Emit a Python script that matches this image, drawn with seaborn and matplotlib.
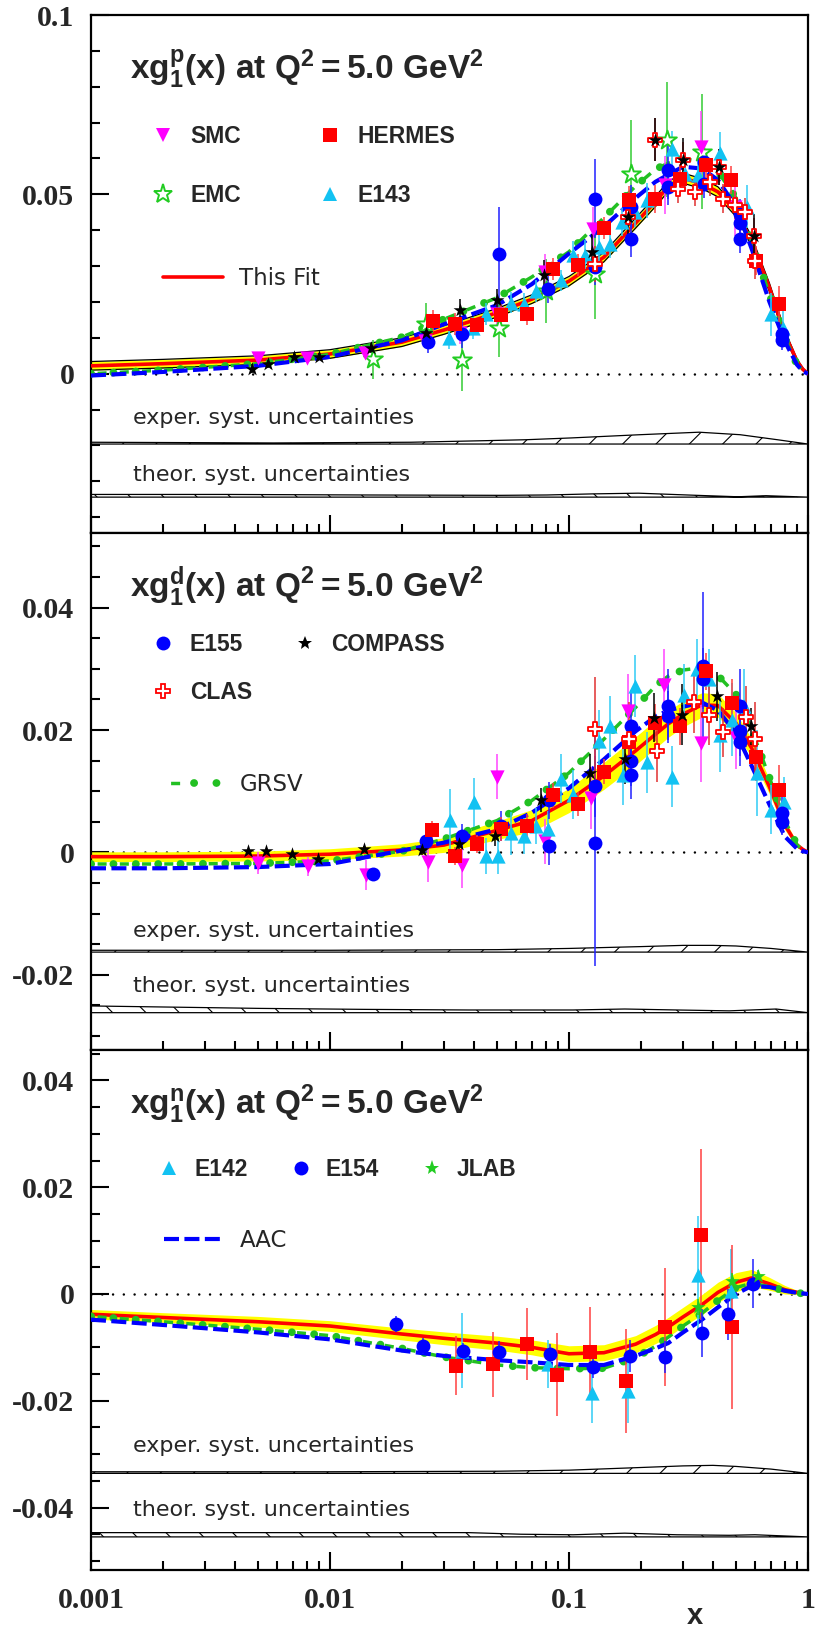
import numpy as np
import pandas as pd
import matplotlib
matplotlib.use("Agg")
import matplotlib.pyplot as plt
import seaborn as sns
from matplotlib.lines import Line2D
from matplotlib.legend_handler import HandlerTuple
from matplotlib.ticker import FixedLocator, MultipleLocator, LogLocator, NullFormatter, FuncFormatter

sns.set_style("white")
plt.rcParams["font.family"] = ["DejaVu Sans"]
plt.rcParams["mathtext.fontset"] = "custom"
plt.rcParams["mathtext.rm"] = "Liberation Sans:bold"
plt.rcParams["mathtext.it"] = "Liberation Sans:bold"
plt.rcParams["mathtext.bf"] = "Liberation Sans:bold"
plt.rcParams["hatch.linewidth"] = 0.8

# ---------------- curves (x grid shared) ----------------
X_GRID = [0.001, 0.002, 0.005, 0.01, 0.02, 0.03, 0.05, 0.07, 0.1, 0.14, 0.19, 0.23,
          0.26, 0.3, 0.36, 0.42, 0.5, 0.58, 0.69, 0.8, 0.9, 0.95, 1.0]

P_FIT = [0.0022, 0.0028, 0.0038, 0.0055, 0.0088, 0.0122, 0.017, 0.0208, 0.0258, 0.0325, 0.042, 0.048,
         0.0522, 0.0545, 0.053, 0.0507, 0.0452, 0.037, 0.024, 0.011, 0.0035, 0.0013, 0.0]
P_BAND = [0.0012, 0.0012, 0.0012, 0.0012, 0.0012, 0.0012, 0.0012, 0.0012, 0.0013, 0.0013, 0.0014, 0.0014,
          0.0014, 0.0014, 0.0014, 0.0014, 0.0014, 0.0013, 0.0012, 0.001, 0.0006, 0.0004, 0.0]
P_AAC = [-0.0005, 0.0005, 0.0022, 0.0047, 0.0093, 0.0138, 0.0191, 0.025, 0.0335, 0.041, 0.049, 0.0535,
         0.0555, 0.0577, 0.0572, 0.054, 0.0465, 0.035, 0.02, 0.009, 0.0025, 0.0007, 0.0]
P_GRSV = [0.0, 0.001, 0.0028, 0.0054, 0.0102, 0.0152, 0.0212, 0.027, 0.034, 0.0435, 0.0523, 0.057,
          0.0587, 0.060, 0.059, 0.0563, 0.049, 0.037, 0.022, 0.010, 0.0025, 0.001, 0.0]

D_FIT = [-0.0007, -0.0007, -0.0006, -0.0003, 0.0004, 0.0012, 0.0036, 0.0052, 0.0085, 0.0125, 0.0166, 0.0193,
         0.021, 0.0226, 0.0241, 0.024, 0.0211, 0.0171, 0.0107, 0.0045, 0.0012, 0.0005, 0.0]
D_BAND = [0.0008, 0.0008, 0.0008, 0.0009, 0.001, 0.0012, 0.0015, 0.0018, 0.002, 0.0022, 0.0023, 0.0023,
          0.0022, 0.0021, 0.002, 0.0019, 0.0017, 0.0015, 0.0012, 0.0008, 0.0004, 0.0002, 0.0]
D_AAC = [-0.0026, -0.0026, -0.0024, -0.0019, 0.0003, 0.0016, 0.0038, 0.0065, 0.0105, 0.0152, 0.0198, 0.0222,
         0.0232, 0.0238, 0.0245, 0.0232, 0.0195, 0.0142, 0.0078, 0.0026, 0.0006, 0.0002, 0.0]
D_GRSV = [-0.0019, -0.0019, -0.0018, -0.0014, 0.0002, 0.0022, 0.0052, 0.0085, 0.013, 0.0185, 0.0237, 0.0272,
          0.0288, 0.0298, 0.0302, 0.0289, 0.0258, 0.0202, 0.0122, 0.0052, 0.0012, 0.0004, 0.0]

N_FIT = [-0.0038, -0.0044, -0.0052, -0.006, -0.0075, -0.0083, -0.0092, -0.01, -0.0112, -0.011, -0.0094, -0.0076,
         -0.0062, -0.0043, -0.002, 0.0003, 0.0022, 0.003, 0.0019, 0.0008, 0.0003, 0.0001, 0.0]
N_BAND = [0.0009, 0.0009, 0.001, 0.001, 0.0011, 0.0012, 0.0013, 0.0014, 0.0015, 0.0015, 0.0016, 0.0017,
          0.0018, 0.0018, 0.0019, 0.0019, 0.0018, 0.0016, 0.0012, 0.0008, 0.0004, 0.0002, 0.0]
N_AAC = [-0.0048, -0.0058, -0.0072, -0.0085, -0.0106, -0.0116, -0.0124, -0.0128, -0.0133, -0.0133, -0.0116, -0.0102,
         -0.0092, -0.0072, -0.0048, -0.0025, 0.0, 0.0015, 0.0013, 0.0006, 0.0002, 0.0001, 0.0]
N_GRSV = [-0.0042, -0.0052, -0.0066, -0.0078, -0.0102, -0.0118, -0.0133, -0.0138, -0.014, -0.0139, -0.0119, -0.0098,
          -0.0081, -0.006, -0.0036, -0.0012, 0.0012, 0.002, 0.0014, 0.0006, 0.0002, 0.0001, 0.0]

# ---------------- systematic uncertainty bands ----------------
P_EXP_BASE, P_TH_BASE = -0.0196, -0.0344
D_EXP_BASE, D_TH_BASE = -0.0163, -0.0262
N_EXP_BASE, N_TH_BASE = -0.0336, -0.0455
P_EXP_X = [0.001, 0.0058, 0.0218, 0.042, 0.066, 0.102, 0.198, 0.35, 0.52, 0.745, 1.0]
P_EXP_H = [0.0005, 0.0003, 0.0005, 0.0009, 0.0012, 0.0017, 0.0026, 0.0033, 0.0026, 0.0012, 0.0]
P_TH_X = [0.001, 0.0037, 0.0139, 0.0519, 0.081, 0.125, 0.195, 0.343, 0.509, 0.667, 1.0]
P_TH_H = [0.00075, 0.00075, 0.0006, 0.0005, 0.0006, 0.0009, 0.0011, 0.0005, 0.0001, 0.0004, 0.0]
D_EXP_X = [0.001, 0.01, 0.05, 0.1, 0.2, 0.3, 0.4, 0.5, 0.7, 1.0]
D_EXP_H = [0.0003, 0.0003, 0.0004, 0.0006, 0.0009, 0.0011, 0.0011, 0.001, 0.0006, 0.0]
D_TH_X = [0.001, 0.0051, 0.014, 0.038, 0.104, 0.171, 0.283, 0.468, 0.735, 1.0]
D_TH_H = [0.0011, 0.0007, 0.00054, 0.00044, 0.00044, 0.0006, 0.00044, 0.0003, 0.0006, 0.0]
N_EXP_X = [0.001, 0.01, 0.05, 0.1, 0.2, 0.3, 0.4, 0.5, 0.7, 1.0]
N_EXP_H = [0.0003, 0.0003, 0.0004, 0.0006, 0.0011, 0.0014, 0.0015, 0.0013, 0.0008, 0.0]
N_TH_X = [0.001, 0.038, 0.063, 0.104, 0.171, 0.283, 0.468, 0.6, 1.0]
N_TH_H = [0.0008, 0.0008, 0.0005, 0.0004, 0.0007, 0.0004, 0.0003, 0.0004, 0.0]

# ---------------- proton data ----------------
SMC_P_X = [0.005, 0.008, 0.014, 0.025, 0.035, 0.05, 0.079, 0.126, 0.253, 0.357, 0.497]
SMC_P_Y = [0.0044, 0.0043, 0.0058, 0.0091, 0.0114, 0.0166, 0.0283, 0.0404, 0.0526, 0.0633, 0.0465]
SMC_P_E = [0.0012, 0.0012, 0.0015, 0.002, 0.003, 0.004, 0.005, 0.006, 0.008, 0.01, 0.008]
HERMES_P_X = [0.0269, 0.0334, 0.0414, 0.0518, 0.0666, 0.086, 0.109, 0.140, 0.179, 0.23, 0.292, 0.374, 0.478, 0.607, 0.756]
HERMES_P_Y = [0.0147, 0.0138, 0.0135, 0.0163, 0.0166, 0.0292, 0.0303, 0.0406, 0.0483, 0.0487, 0.0544, 0.0582, 0.054, 0.0315, 0.0194]
HERMES_P_E = [0.003, 0.003, 0.002, 0.003, 0.003, 0.003, 0.003, 0.003, 0.004, 0.004, 0.004, 0.004, 0.004, 0.004, 0.005]
EMC_P_X = [0.0152, 0.0252, 0.0356, 0.0509, 0.0805, 0.128, 0.182, 0.257, 0.36]
EMC_P_Y = [0.004, 0.0138, 0.0037, 0.0128, 0.0231, 0.0278, 0.0556, 0.0652, 0.0619]
EMC_P_E = [0.0055, 0.006, 0.0085, 0.008, 0.009, 0.0125, 0.015, 0.016, 0.016]
E143_P_X = [0.0316, 0.0396, 0.045, 0.0574, 0.0649, 0.0731, 0.093, 0.104, 0.117, 0.133, 0.149, 0.166, 0.189,
            0.212, 0.27, 0.307, 0.345, 0.43, 0.557, 0.698, 0.789]
E143_P_Y = [0.010, 0.0128, 0.0166, 0.0198, 0.0194, 0.0231, 0.026, 0.033, 0.0332, 0.0353, 0.0362, 0.0423, 0.045,
            0.0483, 0.0626, 0.0556, 0.0555, 0.0614, 0.0465, 0.0166, 0.0128]
E143_P_E = [0.003, 0.003, 0.003, 0.003, 0.003, 0.003, 0.003, 0.004, 0.004, 0.004, 0.004, 0.004, 0.004,
            0.005, 0.005, 0.005, 0.005, 0.006, 0.006, 0.006, 0.005]
E155_P_X = [0.0256, 0.0356, 0.0509, 0.082, 0.128, 0.128, 0.182, 0.182, 0.26, 0.26, 0.366, 0.366, 0.52, 0.52, 0.52, 0.78, 0.78]
E155_P_Y = [0.0088, 0.0112, 0.0334, 0.0236, 0.0488, 0.0297, 0.0376, 0.0465, 0.0568, 0.052, 0.059, 0.053, 0.0446, 0.0376, 0.042, 0.011, 0.0095]
E155_P_E = [0.003, 0.004, 0.013, 0.004, 0.011, 0.005, 0.005, 0.006, 0.008, 0.005, 0.006, 0.004, 0.004, 0.004, 0.004, 0.003, 0.003]
COMPASS_P_X = [0.0047, 0.0055, 0.00706, 0.009, 0.0148, 0.0252, 0.035, 0.050, 0.0785, 0.125, 0.177, 0.23, 0.30, 0.424, 0.597]
COMPASS_P_Y = [0.0013, 0.0027, 0.0047, 0.0047, 0.0072, 0.0114, 0.0177, 0.0206, 0.0276, 0.0339, 0.0437, 0.0652, 0.0596, 0.0577, 0.0385]
COMPASS_P_E = [0.001, 0.001, 0.001, 0.001, 0.0015, 0.002, 0.003, 0.003, 0.004, 0.005, 0.006, 0.006, 0.006, 0.005, 0.006]
CLAS_P_X = [0.128, 0.177, 0.23, 0.287, 0.30, 0.336, 0.388, 0.424, 0.44, 0.497, 0.545, 0.597, 0.6]
CLAS_P_Y = [0.0306, 0.0437, 0.0652, 0.0516, 0.0596, 0.0507, 0.0535, 0.0577, 0.0488, 0.047, 0.045, 0.0385, 0.0315]
CLAS_P_E = [0.005, 0.005, 0.006, 0.004, 0.005, 0.004, 0.004, 0.005, 0.004, 0.004, 0.004, 0.005, 0.005]

# ---------------- deuteron data ----------------
SMC_D_X = [0.005, 0.0081, 0.0141, 0.0256, 0.0355, 0.05, 0.079, 0.124, 0.177, 0.25, 0.357, 0.50]
SMC_D_Y = [-0.0018, -0.0023, -0.0037, -0.0015, -0.002, 0.0124, 0.0018, 0.0089, 0.0231, 0.0273, 0.0179, 0.0187]
SMC_D_E = [0.0018, 0.0015, 0.0025, 0.0033, 0.0038, 0.0037, 0.0037, 0.005, 0.006, 0.006, 0.0064, 0.005]
E143_D_X = [0.0318, 0.04, 0.045, 0.0505, 0.0574, 0.065, 0.0731, 0.082, 0.0929, 0.104, 0.133, 0.149, 0.168,
            0.189, 0.212, 0.27, 0.304, 0.344, 0.386, 0.43, 0.483, 0.54, 0.61, 0.697, 0.79]
E143_D_Y = [0.0053, 0.0082, -0.0006, -0.0006, 0.0031, 0.0027, 0.0043, 0.0038, 0.012, 0.0094, 0.0182, 0.0206, 0.0127,
            0.0272, 0.0147, 0.0124, 0.0258, 0.0299, 0.0283, 0.0192, 0.0217, 0.0239, 0.013, 0.007, 0.0083]
E143_D_E = [0.005, 0.004, 0.003, 0.003, 0.0035, 0.003, 0.003, 0.003, 0.004, 0.004, 0.005, 0.005, 0.005,
            0.005, 0.005, 0.005, 0.005, 0.005, 0.005, 0.006, 0.006, 0.006, 0.007, 0.004, 0.004]
E155_D_X = [0.0152, 0.0253, 0.0356, 0.052, 0.0825, 0.0825, 0.128, 0.128, 0.182, 0.182, 0.182, 0.26, 0.26,
            0.363, 0.363, 0.52, 0.52, 0.52, 0.78, 0.78]
E155_D_Y = [-0.0035, 0.0019, 0.0027, 0.0043, 0.001, 0.0085, 0.0015, 0.0108, 0.0206, 0.0149, 0.0127, 0.0239, 0.0223,
            0.0305, 0.0284, 0.024, 0.0198, 0.0181, 0.0064, 0.0049]
E155_D_E = [0.001, 0.002, 0.002, 0.0025, 0.003, 0.003, 0.02, 0.005, 0.006, 0.004, 0.004, 0.006, 0.004,
            0.012, 0.005, 0.006, 0.004, 0.004, 0.003, 0.002]
HERMES_D_X = [0.0268, 0.0334, 0.0414, 0.052, 0.0666, 0.0854, 0.109, 0.14, 0.179, 0.23, 0.292, 0.374, 0.479, 0.606, 0.756]
HERMES_D_Y = [0.0036, -0.0006, 0.0014, 0.0038, 0.0043, 0.0093, 0.0079, 0.0132, 0.0181, 0.0212, 0.0206, 0.0296, 0.0244, 0.0156, 0.0102]
HERMES_D_E = [0.0015, 0.0015, 0.0015, 0.002, 0.002, 0.002, 0.002, 0.002, 0.003, 0.003, 0.003, 0.003, 0.004, 0.004, 0.004]
COMPASS_D_X = [0.00452, 0.00542, 0.00692, 0.00894, 0.0139, 0.0243, 0.0346, 0.0489, 0.0765, 0.122, 0.172, 0.226, 0.296, 0.417, 0.578]
COMPASS_D_Y = [0.0003, 0.0003, -0.0002, -0.0011, 0.0005, 0.0004, 0.0013, 0.0026, 0.0086, 0.013, 0.0152, 0.022, 0.0225, 0.0255, 0.0206]
COMPASS_D_E = [0.0003, 0.0003, 0.0003, 0.0004, 0.0005, 0.0008, 0.001, 0.0015, 0.002, 0.003, 0.004, 0.004, 0.005, 0.004, 0.003]
CLAS_D_X = [0.128, 0.178, 0.233, 0.335, 0.387, 0.44, 0.548, 0.6]
CLAS_D_Y = [0.0201, 0.0185, 0.0165, 0.0245, 0.0225, 0.0196, 0.0222, 0.0185]
CLAS_D_E = [0.0085, 0.006, 0.005, 0.005, 0.005, 0.004, 0.005, 0.006]

# ---------------- neutron data ----------------
E142_N_X = [0.0355, 0.082, 0.125, 0.177, 0.347, 0.475]
E142_N_Y = [-0.0106, -0.0132, -0.0186, -0.0182, 0.0036, 0.0005]
E142_N_E = [0.007, 0.0045, 0.0055, 0.006, 0.011, 0.008]
E154_N_X = [0.0188, 0.0244, 0.0359, 0.0508, 0.0835, 0.126, 0.180, 0.251, 0.359, 0.462, 0.59]
E154_N_Y = [-0.0057, -0.0097, -0.0106, -0.0109, -0.0113, -0.0137, -0.0116, -0.0118, -0.0073, -0.0038, 0.0019]
E154_N_E = [0.0015, 0.0015, 0.0015, 0.002, 0.002, 0.002, 0.003, 0.003, 0.0045, 0.0048, 0.0046]
HERMES_N_X = [0.0337, 0.0482, 0.0666, 0.0892, 0.122, 0.173, 0.253, 0.357, 0.479]
HERMES_N_Y = [-0.0134, -0.0132, -0.0094, -0.0151, -0.0109, -0.0163, -0.0062, 0.0111, -0.0062]
HERMES_N_E = [0.0055, 0.0061, 0.0067, 0.0078, 0.0085, 0.0098, 0.011, 0.016, 0.0154]
JLAB_N_X = [0.345, 0.479, 0.62]
JLAB_N_Y = [-0.0024, 0.0024, 0.0034]
JLAB_N_E = [0.0015, 0.0015, 0.001]

PANEL_TITLES = [r"$\mathrm{xg_1^p(x)\ at\ Q^2 = 5.0\ GeV^2}$",
                r"$\mathrm{xg_1^d(x)\ at\ Q^2 = 5.0\ GeV^2}$",
                r"$\mathrm{xg_1^n(x)\ at\ Q^2 = 5.0\ GeV^2}$"]
Y_LIMS = [(-0.0444, 0.1), (-0.0323, 0.0522), (-0.0517, 0.0457)]
Y_MAJOR = [[0.0, 0.05, 0.1], [-0.02, 0.0, 0.02, 0.04], [-0.04, -0.02, 0.0, 0.02, 0.04]]
Y_MINOR = [0.01, 0.005, 0.005]
X_TICKS = [0.001, 0.01, 0.1, 1.0]

# ---------------- styles ----------------
STY = {
    "SMC": dict(marker="v", fc="#ff00ff", ec="#ff00ff", s=105, lw=0, err="#ff44ff"),
    "HERMES": dict(marker="s", fc="#ff0000", ec="#ff0000", s=95, lw=0, err="#ff4040"),
    "EMC": dict(marker="*", fc="white", ec="#22cc22", s=200, lw=1.4, err="#33cc33"),
    "E143": dict(marker="^", fc="#12c2f2", ec="#12c2f2", s=105, lw=0, err="#30ccf5"),
    "E155": dict(marker="o", fc="#0000ff", ec="#0000ff", s=100, lw=0, err="#2020ff"),
    "COMPASS": dict(marker="*", fc="black", ec="black", s=110, lw=0, err="black"),
    "CLAS": dict(marker="P", fc="white", ec="#ff0000", s=90, lw=1.3, err="#e03030"),
    "JLAB": dict(marker="*", fc="#22cc22", ec="#22cc22", s=120, lw=0, err="#22cc22"),
}
RED, BLUE, GREEN, YELLOW = "#ff0000", "#0000ff", "#22c022", "#ffff00"

FIG_W, FIG_H = 815, 1636
fig = plt.figure(figsize=(FIG_W / 100, FIG_H / 100), dpi=100)
left = 91 / FIG_W
width = (808 - 91) / FIG_W
panel_px = [(15, 533), (533, 1050), (1050, 1570)]
axes = []
for top, bot in panel_px:
    ax = fig.add_axes([left, 1 - bot / FIG_H, width, (bot - top) / FIG_H])
    axes.append(ax)

LEG_FONT = dict(family="Liberation Sans", weight="bold", size=16.5)
LINE_LEG_FONT = dict(family="DejaVu Sans", weight="normal", size=16.5)

P = 16.0   # green dash-dot period (pt)
D = 6.5    # dash length (pt)
DOT_LW = 5.6
DASH_LW = 2.5
GRSV_DASH = ((P + D) / 2 / DASH_LW, (D / DASH_LW, (P - D) / DASH_LW))
GRSV_DOT = (0, (0.02, P / DOT_LW))


def draw_curves(ax, fit, band, aac, grsv, edges):
    lo = np.array(fit) - np.array(band)
    hi = np.array(fit) + np.array(band)
    ax.fill_between(X_GRID, lo, hi, color=YELLOW, lw=0, zorder=2)
    if edges:
        sns.lineplot(x=X_GRID, y=lo, ax=ax, color="black", lw=0.9, estimator=None, sort=False, zorder=2.5)
        sns.lineplot(x=X_GRID, y=hi, ax=ax, color="black", lw=0.9, estimator=None, sort=False, zorder=2.5)
    sns.lineplot(x=X_GRID, y=fit, ax=ax, color=RED, lw=2.6, estimator=None, sort=False, zorder=3)
    sns.lineplot(x=X_GRID, y=aac, ax=ax, color=BLUE, lw=3.0, estimator=None, sort=False,
                 linestyle=(0, (3.6, 1.3)), zorder=3.2)
    sns.lineplot(x=X_GRID, y=grsv, ax=ax, color=GREEN, lw=DASH_LW, estimator=None, sort=False,
                 linestyle=GRSV_DASH, zorder=3.1)
    sns.lineplot(x=X_GRID, y=grsv, ax=ax, color=GREEN, lw=DOT_LW, estimator=None, sort=False,
                 linestyle=GRSV_DOT, dash_capstyle="round", zorder=3.1)


def draw_data(ax, name, xs, ys, es):
    st = STY[name]
    ax.errorbar(xs, ys, yerr=es, fmt="none", ecolor=st["err"], elinewidth=1.1, capsize=0, zorder=4)
    sns.scatterplot(x=xs, y=ys, ax=ax, marker=st["marker"], s=st["s"], color=st["fc"],
                    edgecolor=st["ec"], linewidth=st["lw"], zorder=5, legend=False)


def draw_syst(ax, xs, hs, base, hatch):
    top = base + np.array(hs)
    ax.fill_between(xs, base, top, facecolor="none", edgecolor="black", hatch=hatch, lw=0.9, zorder=2)


def leg_handle(name):
    st = STY[name]
    return Line2D([], [], ls="none", marker=st["marker"], markersize=np.sqrt(st["s"]),
                  markerfacecolor=st["fc"], markeredgecolor=st["ec"], markeredgewidth=st["lw"])


def style_axis(ax, i):
    ax.set_xscale("log")
    ax.set_xlim(1e-3, 1.0)
    ax.set_ylim(*Y_LIMS[i])
    ax.axhline(0, color="black", lw=1.8, linestyle=(0, (0.01, 4.3)), dash_capstyle="round", zorder=1)
    for sp in ax.spines.values():
        sp.set_linewidth(1.6)
        sp.set_color("black")
        sp.set_visible(True)
    ax.yaxis.set_major_locator(FixedLocator(Y_MAJOR[i]))
    ax.yaxis.set_minor_locator(MultipleLocator(Y_MINOR[i]))
    ax.yaxis.set_major_formatter(FuncFormatter(lambda v, p: "%g" % v))
    ax.xaxis.set_major_locator(FixedLocator(X_TICKS))
    ax.xaxis.set_minor_locator(LogLocator(base=10, subs=np.arange(2, 10)))
    ax.xaxis.set_major_formatter(FuncFormatter(lambda v, p: "%g" % v))
    ax.xaxis.set_minor_formatter(NullFormatter())
    ax.tick_params(axis="both", which="both", direction="in", top=False, right=False,
                   left=True, bottom=True, width=1.5, color="black")
    ax.tick_params(axis="both", which="major", length=13)
    ax.tick_params(axis="both", which="minor", length=6.5)
    ax.tick_params(axis="y", which="major", pad=12, labelsize=21.5, labelfontfamily="Liberation Serif")
    ax.tick_params(axis="x", which="major", pad=12, labelsize=21.5, labelfontfamily="Liberation Serif",
                   labelbottom=(i == 2))
    for lab in ax.get_yticklabels() + ax.get_xticklabels():
        lab.set_fontweight("bold")
    ax.set_xlabel("")
    ax.set_ylabel("")
    ax.grid(False)


ax1, ax2, ax3 = axes

# ---- panel 1 (proton) ----
draw_syst(ax1, P_EXP_X, P_EXP_H, P_EXP_BASE, "/")
draw_syst(ax1, P_TH_X, P_TH_H, P_TH_BASE, "\\")
draw_curves(ax1, P_FIT, P_BAND, P_AAC, P_GRSV, edges=True)
draw_data(ax1, "EMC", EMC_P_X, EMC_P_Y, EMC_P_E)
draw_data(ax1, "SMC", SMC_P_X, SMC_P_Y, SMC_P_E)
draw_data(ax1, "E143", E143_P_X, E143_P_Y, E143_P_E)
draw_data(ax1, "E155", E155_P_X, E155_P_Y, E155_P_E)
draw_data(ax1, "HERMES", HERMES_P_X, HERMES_P_Y, HERMES_P_E)
draw_data(ax1, "CLAS", CLAS_P_X, CLAS_P_Y, CLAS_P_E)
draw_data(ax1, "COMPASS", COMPASS_P_X, COMPASS_P_Y, COMPASS_P_E)

# ---- panel 2 (deuteron) ----
draw_syst(ax2, D_EXP_X, D_EXP_H, D_EXP_BASE, "/")
draw_syst(ax2, D_TH_X, D_TH_H, D_TH_BASE, "\\")
draw_curves(ax2, D_FIT, D_BAND, D_AAC, D_GRSV, edges=False)
draw_data(ax2, "SMC", SMC_D_X, SMC_D_Y, SMC_D_E)
draw_data(ax2, "E143", E143_D_X, E143_D_Y, E143_D_E)
draw_data(ax2, "E155", E155_D_X, E155_D_Y, E155_D_E)
draw_data(ax2, "HERMES", HERMES_D_X, HERMES_D_Y, HERMES_D_E)
draw_data(ax2, "CLAS", CLAS_D_X, CLAS_D_Y, CLAS_D_E)
draw_data(ax2, "COMPASS", COMPASS_D_X, COMPASS_D_Y, COMPASS_D_E)

# ---- panel 3 (neutron) ----
draw_syst(ax3, N_EXP_X, N_EXP_H, N_EXP_BASE, "/")
draw_syst(ax3, N_TH_X, N_TH_H, N_TH_BASE, "\\")
draw_curves(ax3, N_FIT, N_BAND, N_AAC, N_GRSV, edges=False)
draw_data(ax3, "E143", E142_N_X, E142_N_Y, E142_N_E)
draw_data(ax3, "HERMES", HERMES_N_X, HERMES_N_Y, HERMES_N_E)
draw_data(ax3, "E155", E154_N_X, E154_N_Y, E154_N_E)
draw_data(ax3, "JLAB", JLAB_N_X, JLAB_N_Y, JLAB_N_E)

for i, ax in enumerate(axes):
    style_axis(ax, i)
    ax.text(0.0544, 0.877, PANEL_TITLES[i], transform=ax.transAxes, fontsize=24, va="baseline", zorder=10)

# syst labels
SYST_TXT_Y = [(0.2103, 0.1006), (0.218, 0.112), (0.226, 0.104)]
for ax, (ye, yt) in zip(axes, SYST_TXT_Y):
    ax.text(0.0586, ye, "exper. syst. uncertainties", transform=ax.transAxes, fontsize=16,
            family="DejaVu Sans", fontweight="normal", va="baseline")
    ax.text(0.0586, yt, "theor. syst. uncertainties", transform=ax.transAxes, fontsize=16,
            family="DejaVu Sans", fontweight="normal", va="baseline")

# legends
common = dict(frameon=False, borderpad=0, borderaxespad=0, loc="center left")
l1 = ax1.legend([leg_handle(n) for n in ["SMC", "EMC", "HERMES", "E143"]],
                ["SMC", "EMC", "HERMES", "E143"], ncol=2, bbox_to_anchor=(0.085, 0.708),
                prop=LEG_FONT, handlelength=1.0, handletextpad=0.67, columnspacing=3.4,
                labelspacing=1.55, **common)
ax1.add_artist(l1)
fit_h = Line2D([], [], color=RED, lw=2.6)
ax1.legend([fit_h], ["This Fit"], bbox_to_anchor=(0.1008, 0.4918), prop=LINE_LEG_FONT,
           handlelength=2.6, handletextpad=0.7, **common)

l2 = ax2.legend([leg_handle(n) for n in ["E155", "CLAS", "COMPASS"]],
                ["E155", "CLAS", "COMPASS"], ncol=2, bbox_to_anchor=(0.0843, 0.738),
                prop=LEG_FONT, handlelength=1.0, handletextpad=0.67, columnspacing=1.8,
                labelspacing=1.1, **common)
ax2.add_artist(l2)
g_dash = Line2D([], [], color=GREEN, lw=DASH_LW, linestyle=GRSV_DASH)
g_dot = Line2D([], [], color=GREEN, lw=DOT_LW, linestyle=GRSV_DOT, dash_capstyle="round")
ax2.legend([(g_dash, g_dot)], ["GRSV"], bbox_to_anchor=(0.1018, 0.5126), prop=LINE_LEG_FONT,
           handlelength=2.6, handletextpad=0.7, handler_map={tuple: HandlerTuple(ndivide=None)}, **common)

l3 = ax3.legend([leg_handle("E143"), leg_handle("E155"), leg_handle("JLAB")],
                ["E142", "E154", "JLAB"], ncol=3, bbox_to_anchor=(0.0931, 0.770),
                prop=LEG_FONT, handlelength=1.0, handletextpad=0.6, columnspacing=1.8,
                **common)
ax3.add_artist(l3)
aac_h = Line2D([], [], color=BLUE, lw=3.0, linestyle=(0, (3.6, 1.3)))
ax3.legend([aac_h], ["AAC"], bbox_to_anchor=(0.1022, 0.634), prop=LINE_LEG_FONT,
           handlelength=2.6, handletextpad=0.7, **common)

ax3.set_xlabel("x", fontsize=21, fontweight="bold", family="Liberation Sans")
ax3.xaxis.set_label_coords(0.842, -0.088)
ax3.xaxis.label.set_va("center")

fig.savefig("out.png", dpi=100)
